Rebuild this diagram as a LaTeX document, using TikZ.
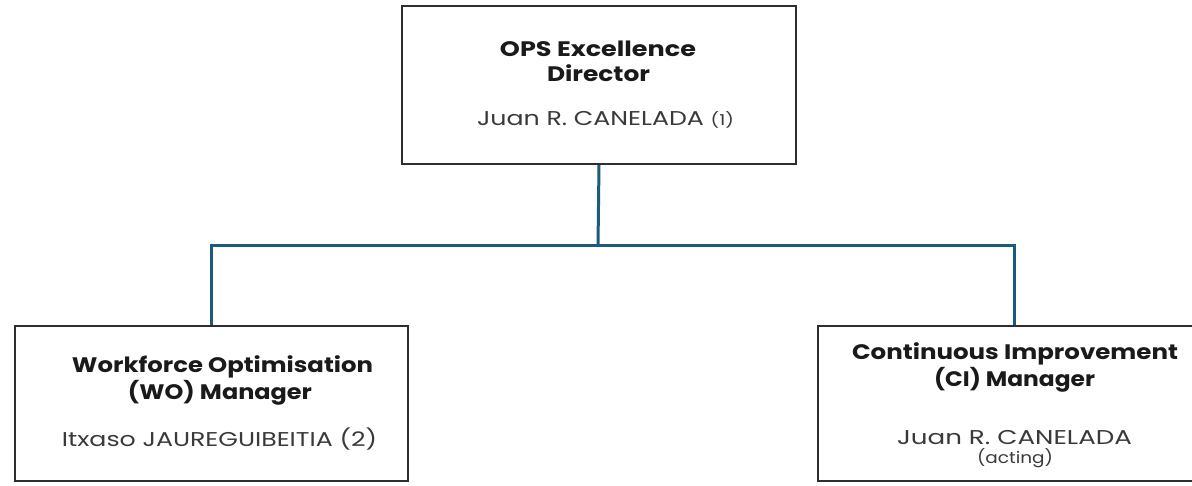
\documentclass[tikz,border=0pt]{standalone}
\usepackage{fontspec}
\usepackage{graphicx}
\setmainfont{Poppins}
\definecolor{linkblue}{HTML}{1D5A80}
\definecolor{boxgrey}{HTML}{2E2E2E}
\definecolor{titleblack}{HTML}{1A1A1A}
\definecolor{namegrey}{HTML}{3A3A3A}
% set a line of text to a given width, keeping its height
\newcommand{\fitw}[2]{\resizebox{#1}{\height}{#2}}
\begin{document}
\begin{tikzpicture}[x=1pt,y=1pt,
  rolebox/.style={draw=boxgrey, line width=2pt, fill=white, rectangle, inner sep=0pt, anchor=south west},
  title/.style={anchor=base, text=titleblack, font=\fontsize{21}{25}\selectfont\bfseries, inner sep=0pt},
  person/.style={anchor=base, text=namegrey, font=\fontsize{20}{24}\selectfont, inner sep=0pt},
  note/.style={anchor=base, text=namegrey, font=\fontsize{16}{19}\selectfont, inner sep=0pt},
  link/.style={draw=linkblue, line width=3pt}]
\useasboundingbox (0,0) rectangle (1192,485);
\clip (0,0) rectangle (1192,485);
\fill[white] (0,0) rectangle (1192,485);

% director box
\node[rolebox, minimum width=394pt, minimum height=158pt] (dir) at (401,320) {};
% the two managers (the right one runs off the page edge)
\node[rolebox, minimum width=393pt, minimum height=155pt] (wo) at (14,3) {};
\node[rolebox, minimum width=392pt, minimum height=155pt] (ci) at (817,3) {};

% reporting lines
\coordinate (bus) at (598,239);
\draw[link] (dir.south) -- (bus);
\draw[link] (bus) -| (wo.north);
\draw[link] (bus) -| (ci.north);

% director texts
\node[title] (t1a) at (598,428) {\fitw{196pt}{OPS Excellence}};
\node[title] (t1b) at (598.5,403.5) {\fitw{103pt}{Director}};
\node[person] (p1) at (605.5,359) {\fitw{257pt}{Juan R. CANELADA {\fontsize{15}{18}\selectfont(1)}}};

% WO manager texts
\node[title] (t2a) at (222.5,112.5) {\fitw{301pt}{Workforce Optimisation}};
\node[title] (t2b) at (220,85) {\fitw{184pt}{(WO) Manager}};
\node[person] (p2) at (219.5,38) {\fitw{315pt}{Itxaso JAUREGUIBEITIA (2)}};

% CI manager texts
\node[title] (t3a) at (1015,125.7) {\fitw{326pt}{Continuous Improvement}};
\node[title] (t3b) at (1014.5,98.3) {\fitw{161pt}{(CI) Manager}};
\node[person] (p3) at (1014.5,41) {\fitw{235pt}{Juan R. CANELADA}};
\node[note] (p3b) at (1015,21.7) {\fitw{76pt}{(acting)}};
\end{tikzpicture}
\end{document}
